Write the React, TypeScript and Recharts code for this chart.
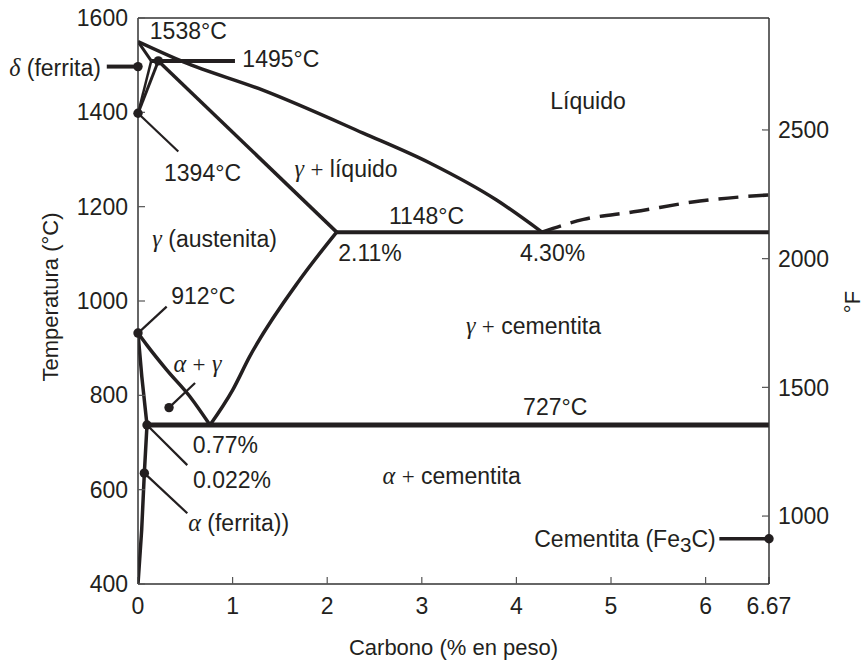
import React from 'react';
import { LineChart, Line, XAxis, YAxis, ReferenceLine, ReferenceDot } from 'recharts';

const ink = '#231f20';
const sans = '"Liberation Sans", Arial, Helvetica, sans-serif';
const serif = '"Liberation Serif", "Times New Roman", serif';

// límites de fase: carbono (% en peso) vs temperatura (°C)
const liquidus = [
  { c: 0, t: 1550 }, { c: 0.48, t: 1507 }, { c: 1.32, t: 1447 }, { c: 2.38, t: 1356 },
  { c: 3.09, t: 1292 }, { c: 3.79, t: 1214 }, { c: 4.27, t: 1146 },
];
const liquidusFe3C = [
  { c: 4.27, t: 1146 }, { c: 4.71, t: 1173 }, { c: 5.24, t: 1189 }, { c: 5.94, t: 1212 }, { c: 6.67, t: 1225 },
];
const solidusGamma = [{ c: 0.215, t: 1509 }, { c: 2.1, t: 1146 }];
const solidusDelta = [{ c: 0, t: 1550 }, { c: 0.14, t: 1509 }];
const deltaSolvus = [{ c: 0, t: 1398 }, { c: 0.14, t: 1509 }];
const gammaDelta = [{ c: 0, t: 1398 }, { c: 0.215, t: 1509 }];
const peritectic = [{ c: 0.14, t: 1509 }, { c: 0.5, t: 1509 }];
const eutectic = [{ c: 2.1, t: 1146 }, { c: 6.67, t: 1146 }];
const a3 = [{ c: 0, t: 932 }, { c: 0.092, t: 907 }, { c: 0.303, t: 854 }, { c: 0.55, t: 797 }, { c: 0.761, t: 737 }];
const acm = [{ c: 0.761, t: 737 }, { c: 1.0, t: 811 }, { c: 1.18, t: 882 }, { c: 1.71, t: 1045 }, { c: 2.1, t: 1146 }];
const alphaGamma = [{ c: 0, t: 932 }, { c: 0.04, t: 840 }, { c: 0.095, t: 737 }];
const alphaSolvus = [{ c: 0.095, t: 737 }, { c: 0.067, t: 635 }, { c: 0.039, t: 515 }, { c: 0, t: 400 }];
const eutectoid = [{ c: 0.095, t: 737 }, { c: 6.67, t: 737 }];

const cTicks = [0, 1, 2, 3, 4, 5, 6, 6.67];
const tTicks = [400, 600, 800, 1000, 1200, 1400, 1600];
const fTicks = [1000, 1500, 2000, 2500];

// puntos señalados y el extremo de su línea guía
const callouts = [
  { dot: { c: 0, t: 1497 }, end: { c: -0.33, t: 1497 }, w: 4 },
  { dot: { c: 0.215, t: 1509 }, end: { c: 1.025, t: 1509 }, w: 4 },
  { dot: { c: 0, t: 1398 }, end: { c: 0.426, t: 1317 }, w: 2.2 },
  { dot: { c: 0, t: 932 }, end: { c: 0.303, t: 988 }, w: 2.2 },
  { dot: { c: 0.328, t: 774 }, end: { c: 0.603, t: 826 }, w: 2.2 },
  { dot: { c: 0.095, t: 737 }, end: { c: 0.521, t: 652 }, w: 2.2 },
  { dot: { c: 0.067, t: 635 }, end: { c: 0.521, t: 550 }, w: 2.2 },
  { dot: { c: 6.67, t: 496 }, end: { c: 6.145, t: 496 }, w: 3.5 },
];

const labels = [
  { text: '1538°C', c: 0.532, t: 1574 },
  { text: '1495°C', c: 1.51, t: 1514 },
  { text: 'δ (ferrita)', c: -0.877, t: 1494 },
  { text: 'Líquido', c: 4.757, t: 1424 },
  { text: '1394°C', c: 0.682, t: 1273 },
  { text: 'γ + líquido', c: 2.2, t: 1280 },
  { text: '1148°C', c: 3.05, t: 1180 },
  { text: 'γ (austenita)', c: 0.81, t: 1132 },
  { text: '2.11%', c: 2.452, t: 1103 },
  { text: '4.30%', c: 4.382, t: 1103 },
  { text: '912°C', c: 0.69, t: 1012 },
  { text: 'γ + cementita', c: 4.18, t: 947 },
  { text: 'α + γ', c: 0.629, t: 866 },
  { text: '727°C', c: 4.41, t: 775 },
  { text: '0.77%', c: 0.923, t: 695 },
  { text: '0.022%', c: 0.994, t: 621 },
  { text: 'α + cementita', c: 3.316, t: 629 },
  { text: 'α (ferrita))', c: 1.064, t: 529 },
  { text: 'Cementita (Fe_3C)', c: 5.148, t: 496 },
];

const Rich = ({ x, y, text, size = 23 }: { x: number; y: number; text: string; size?: number }) => {
  const parts = text.split(/([α-ω+]|_\d)/).filter(Boolean);
  let sub = false;
  return (
    <text x={x} y={y} dy="0.36em" textAnchor="middle" fontSize={size} fill={ink} fontFamily={sans}>
      {parts.map((p, i) => {
        const back = sub ? 5 : 0;
        sub = false;
        if (/^[α-ω]$/.test(p))
          return <tspan key={i} dy={back ? -back : undefined} fontFamily={serif} fontStyle="italic" fontSize={size * 1.05}>{p}</tspan>;
        if (p === '+') return <tspan key={i} dy={back ? -back : undefined} fontFamily={serif}>{p}</tspan>;
        if (p.startsWith('_')) {
          sub = true;
          return <tspan key={i} dy={5} fontSize={size * 0.9}>{p.slice(1)}</tspan>;
        }
        return <tspan key={i} dy={back ? -back : undefined}>{p}</tspan>;
      })}
    </text>
  );
};

const boundary = (data: { c: number; t: number }[], key: string, w = 3.5, type: any = 'linear', dash?: string) => (
  <Line
    key={key}
    yAxisId="left"
    data={data}
    dataKey="t"
    type={type}
    stroke={ink}
    strokeWidth={w}
    strokeDasharray={dash}
    dot={false}
    activeDot={false}
    legendType="none"
    isAnimationActive={false}
  />
);

const tickStyle = { fill: ink, fontSize: 23, fontFamily: sans };

export default function App() {
  return (
    <div style={{ position: 'absolute', left: 0, top: 0, width: 867, height: 660, background: '#fff' }}>
      <LineChart width={867} height={660} margin={{ top: 18, right: 38, bottom: 46, left: 80 }}>
        <XAxis
          type="number"
          dataKey="c"
          domain={[0, 6.67]}
          ticks={cTicks}
          allowDataOverflow
          tickSize={-7}
          tickMargin={21}
          height={30}
          tick={tickStyle}
          axisLine={{ stroke: '#333', strokeWidth: 1.5 }}
          tickLine={{ stroke: '#555', strokeWidth: 1.2 }}
          label={{
            content: ({ viewBox }: any) => (
              <text x={viewBox.x + viewBox.width / 2} y={viewBox.y + 71} textAnchor="middle" fontSize={22} fill={ink} fontFamily={sans}>
                Carbono (% en peso)
              </text>
            ),
          }}
        />
        <YAxis
          yAxisId="left"
          type="number"
          domain={[400, 1600]}
          ticks={tTicks}
          allowDataOverflow
          width={58}
          tickSize={-7}
          tickMargin={17}
          tick={tickStyle}
          axisLine={{ stroke: '#333', strokeWidth: 1.5 }}
          tickLine={{ stroke: '#555', strokeWidth: 1.2 }}
          label={{
            content: ({ viewBox }: any) => {
              const x = viewBox.x - 22;
              const y = viewBox.y + viewBox.height / 2 - 4;
              return (
                <text x={x} y={y} transform={`rotate(-90 ${x} ${y})`} textAnchor="middle" fontSize={22} fill={ink} fontFamily={sans}>
                  Temperatura (°C)
                </text>
              );
            },
          }}
        />
        <YAxis
          yAxisId="right"
          orientation="right"
          type="number"
          domain={[736, 2935]}
          ticks={fTicks}
          allowDataOverflow
          width={60}
          tickSize={-7}
          tickMargin={16}
          tick={{ ...tickStyle, textAnchor: 'start' }}
          axisLine={{ stroke: '#333', strokeWidth: 1.5 }}
          tickLine={{ stroke: '#555', strokeWidth: 1.2 }}
          label={{
            content: ({ viewBox }: any) => {
              const x = viewBox.x + 91;
              const y = viewBox.y + viewBox.height / 2 + 1;
              return (
                <text x={x} y={y} transform={`rotate(-90 ${x} ${y})`} textAnchor="middle" fontSize={22} fill={ink} fontFamily={sans}>
                  °F
                </text>
              );
            },
          }}
        />
        <ReferenceLine yAxisId="left" y={1600} stroke="#333" strokeWidth={1.5} />

        {boundary(liquidus, 'liq', 3.5, 'monotone')}
        {boundary(liquidusFe3C, 'liqFe3C', 3.5, 'monotone', '20 10')}
        {boundary(solidusGamma, 'solG')}
        {boundary(solidusDelta, 'solD', 3)}
        {boundary(deltaSolvus, 'dSolv', 2.5)}
        {boundary(gammaDelta, 'gD', 3)}
        {boundary(peritectic, 'peri', 4)}
        {boundary(eutectic, 'eut', 4)}
        {boundary(a3, 'a3', 3.5, 'monotone')}
        {boundary(acm, 'acm', 3.5, 'monotone')}
        {boundary(alphaGamma, 'ag', 3.5)}
        {boundary(alphaSolvus, 'as', 3.5)}
        {boundary(eutectoid, 'eutd', 5)}

        {callouts.map((k, i) => (
          <ReferenceLine
            key={`ln${i}`}
            yAxisId="left"
            segment={[{ x: k.dot.c, y: k.dot.t }, { x: k.end.c, y: k.end.t }]}
            stroke={ink}
            strokeWidth={k.w}
            ifOverflow="visible"
          />
        ))}
        {callouts.map((k, i) => (
          <ReferenceDot key={`dt${i}`} yAxisId="left" x={k.dot.c} y={k.dot.t} r={4.7} fill={ink} stroke="none" ifOverflow="visible" />
        ))}
        {labels.map((l, i) => (
          <ReferenceDot
            key={`lb${i}`}
            yAxisId="left"
            x={l.c}
            y={l.t}
            r={0}
            ifOverflow="visible"
            shape={(p: any) => <Rich x={p.cx} y={p.cy} text={l.text} />}
          />
        ))}
      </LineChart>
    </div>
  );
}
